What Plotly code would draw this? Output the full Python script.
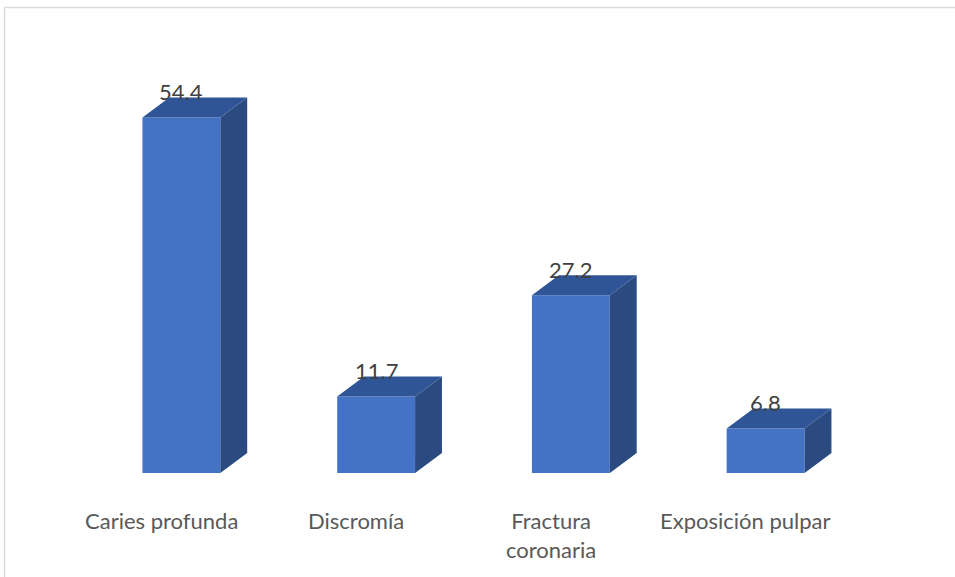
import plotly.graph_objects as go

categories = ["Caries profunda", "Discromía", "Fractura<br>coronaria", "Exposición pulpar"]
values = [54.4, 11.7, 27.2, 6.8]
value_labels = ["54.4", "11.7", "27.2", "6.8"]

FRONT = "#4472C4"
TOP = "#2F5597"
SIDE = "#2A4A80"
W = 0.4      # bar width (category units)
DX = 0.138   # depth offset in x (category units)
DY = 3.06    # depth offset in y (value units)

xs = list(range(len(categories)))

fig = go.Figure()
fig.add_trace(go.Bar(x=xs, y=values, width=W, marker=dict(color=FRONT, line=dict(width=0)),
                     hoverinfo="skip", showlegend=False))

for x, v in zip(xs, values):
    r = x + W / 2
    l = x - W / 2
    # side face
    fig.add_trace(go.Scatter(
        x=[r, r + DX, r + DX, r, r], y=[0, DY, v + DY, v, 0],
        fill="toself", fillcolor=SIDE, mode="lines", line=dict(width=0),
        hoverinfo="skip", showlegend=False))
    # top face
    fig.add_trace(go.Scatter(
        x=[l, r, r + DX, l + DX, l], y=[v, v, v + DY, v + DY, v],
        fill="toself", fillcolor=TOP, mode="lines", line=dict(width=0),
        hoverinfo="skip", showlegend=False))

annotations = []
for x, v, t in zip(xs, values, value_labels):
    annotations.append(dict(x=x, y=v, xref="x", yref="y", text=t, showarrow=False,
                            yanchor="middle", yshift=26,
                            font=dict(family="Lato", size=22, color="#404040")))
for x, c in zip(xs, categories):
    annotations.append(dict(x=x, y=0, xref="x", yref="y", text=c, showarrow=False,
                            yanchor="top", yshift=-32, xshift=-20, align="center",
                            font=dict(family="Lato", size=22, color="#595959")))

left_px, right_px = 83.5, 91.5
top_px, bot_px = 81.4, 104
pw = 955 - left_px - right_px
ph = 577 - top_px - bot_px
bx = (4 - left_px) / pw
by = (473 - 8) / ph

fig.update_layout(
    width=955, height=577,
    margin=dict(l=left_px, r=right_px, t=top_px, b=bot_px, pad=0),
    paper_bgcolor="white", plot_bgcolor="white",
    xaxis=dict(range=[-0.5, 3.5], visible=False, fixedrange=True),
    yaxis=dict(range=[0, 60], visible=False, fixedrange=True),
    annotations=annotations,
    shapes=[
        dict(type="line", xref="paper", yref="paper", x0=bx, x1=1.2, y0=by, y1=by,
             line=dict(color="#D9D9D9", width=1.5)),
        dict(type="line", xref="paper", yref="paper", x0=bx, x1=bx, y0=by, y1=-0.5,
             line=dict(color="#D9D9D9", width=1.5)),
    ],
    showlegend=False,
)

fig.write_html("out.html")
